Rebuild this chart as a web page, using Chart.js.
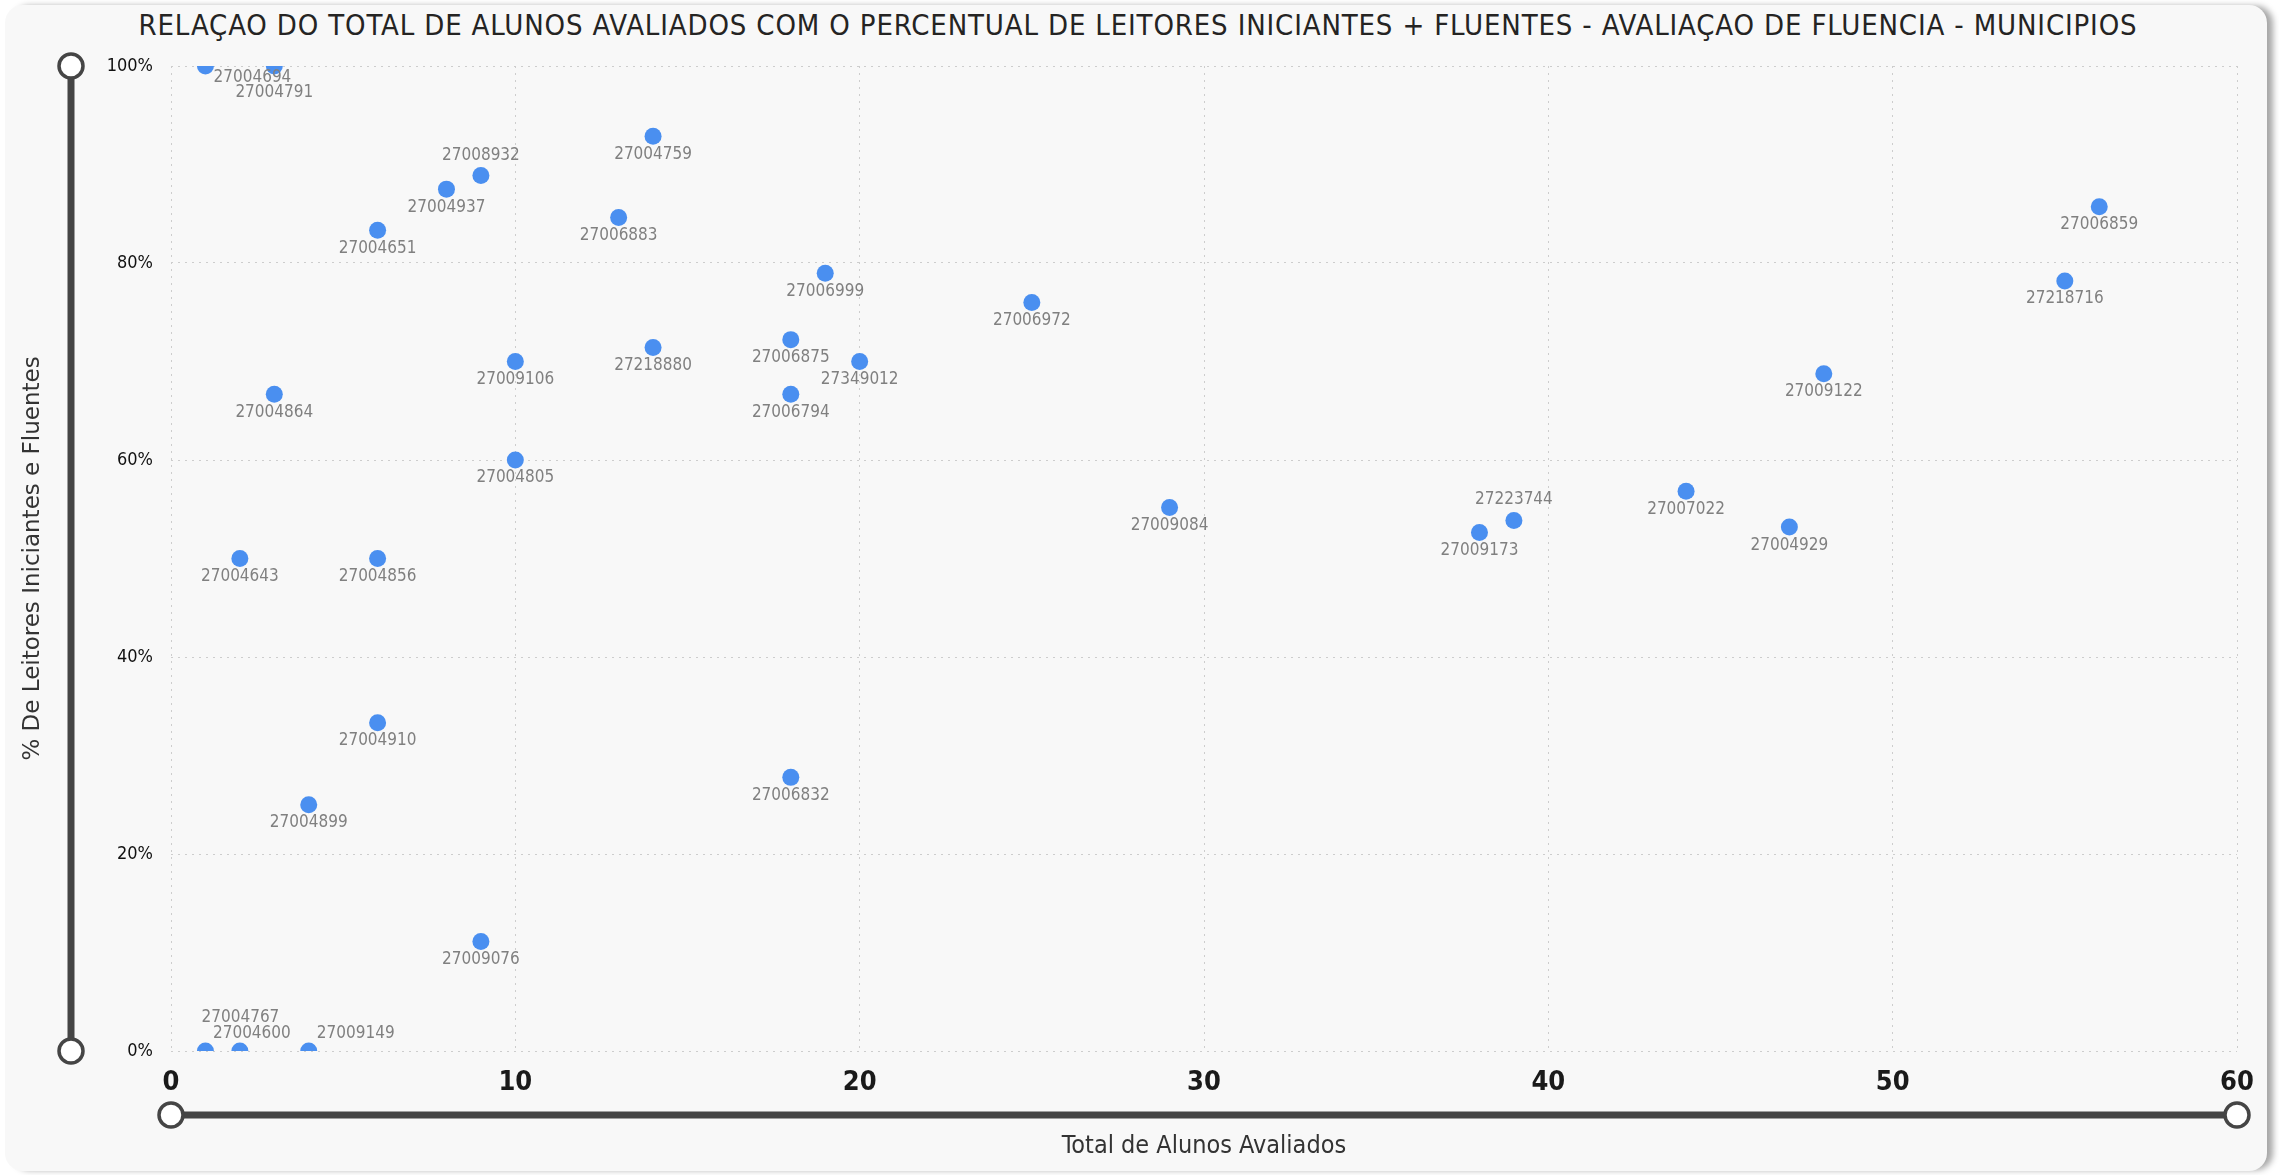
<!DOCTYPE html>
<html lang="pt-BR">
<head>
<meta charset="utf-8">
<title>Relação do total de alunos avaliados</title>
<script src="https://cdn.jsdelivr.net/npm/chart.js@4.4.1/dist/chart.umd.min.js"></script>
<style>
  html, body { margin: 0; padding: 0; background: #ffffff; width: 2279px; height: 1175px; overflow: hidden; }
  #card {
    position: absolute; left: 5px; top: 5px; width: 2262px; height: 1166px;
    background: #f8f8f8; border-radius: 18px;
    box-shadow: 7px 0 6px -1px rgba(0, 0, 0, 0.35);
  }
  #titulo {
    position: absolute; top: 8px; left: 0; width: 2276px; text-align: center;
    font-family: 'DejaVu Sans Condensed', sans-serif; font-size: 29px; letter-spacing: 0.85px;
    color: #252423; white-space: nowrap;
  }
  #grafico { position: absolute; left: 0; top: 0; }
</style>
</head>
<body>
<div id="card"></div>
<div id="titulo">RELAÇAO DO TOTAL DE ALUNOS AVALIADOS COM O PERCENTUAL DE LEITORES INICIANTES + FLUENTES - AVALIAÇAO DE FLUENCIA - MUNICIPIOS</div>
<canvas id="grafico" width="2279" height="1175"></canvas>
<script>
// Código de cada município (rótulo do ponto)
const municipios = [
  '27004694', '27004791', '27004759', '27008932', '27004937', '27006883', '27004651',
  '27006859', '27006999', '27006972', '27218716', '27009106', '27218880', '27006875',
  '27349012', '27004864', '27006794', '27009122', '27004805', '27009084', '27009173',
  '27223744', '27007022', '27004929', '27004643', '27004856', '27004910', '27006832',
  '27004899', '27009076', '27004767', '27004600', '27009149'
];
// Total de alunos avaliados (eixo X)
const totalAlunos = [
  1, 3, 14, 9, 8, 13, 6,
  56, 19, 25, 55, 10, 14, 18,
  20, 3, 18, 48, 10, 29, 38,
  39, 44, 47, 2, 6, 6, 18,
  4, 9, 1, 2, 4
];
// % de leitores iniciantes + fluentes (eixo Y)
const percLeitores = [
  100, 100, 92.86, 88.89, 87.5, 84.62, 83.33,
  85.71, 78.95, 76, 78.18, 70, 71.43, 72.22,
  70, 66.67, 66.67, 68.75, 60, 55.17, 52.63,
  53.85, 56.82, 53.19, 50, 50, 33.33, 27.78,
  25, 11.11, 0, 0, 0
];

// deslocamento dos rótulos que não ficam logo abaixo do ponto
const posRotulo = {
  '27004694': [47, 12],
  '27004791': [0, 27],
  '27008932': [0, -20],
  '27223744': [0, -21],
  '27004767': [35, -33],
  '27004600': [12, -17],
  '27009149': [47, -17]
};

const rotulos = {
  id: 'rotulos',
  afterDatasetsDraw(chart) {
    const ctx = chart.ctx;
    const meta = chart.getDatasetMeta(0);
    ctx.save();
    ctx.font = '17px "DejaVu Sans Condensed", sans-serif';
    ctx.fillStyle = '#808080';
    ctx.textAlign = 'center';
    ctx.textBaseline = 'middle';
    meta.data.forEach((pt, i) => {
      const off = posRotulo[municipios[i]] || [0, 18];
      ctx.fillText(municipios[i], pt.x + off[0], pt.y + off[1]);
    });
    ctx.restore();
  }
};

// trilhos de zoom (estilo Power BI)
const trilhos = {
  id: 'trilhos',
  afterDraw(chart) {
    const ctx = chart.ctx;
    const a = chart.chartArea;
    const xv = a.left - 100;
    const yh = a.bottom + 64;
    ctx.save();
    ctx.strokeStyle = '#454545';
    ctx.lineWidth = 7;
    ctx.beginPath();
    ctx.moveTo(xv, a.top);
    ctx.lineTo(xv, a.bottom);
    ctx.moveTo(a.left, yh);
    ctx.lineTo(a.right, yh);
    ctx.stroke();
    ctx.lineWidth = 3.5;
    ctx.fillStyle = '#ffffff';
    [[xv, a.top], [xv, a.bottom], [a.left, yh], [a.right, yh]].forEach(c => {
      ctx.beginPath();
      ctx.arc(c[0], c[1], 12, 0, Math.PI * 2);
      ctx.fill();
      ctx.stroke();
    });
    ctx.restore();
  }
};

const ctx = document.getElementById('grafico').getContext('2d');
new Chart(ctx, {
  type: 'scatter',
  data: {
    datasets: [{
      label: '% De Leitores Iniciantes e Fluentes',
      data: totalAlunos.map((x, i) => ({ x: x, y: percLeitores[i] })),
      backgroundColor: '#4a8ff0',
      borderWidth: 0,
      pointRadius: 8.5,
      pointHoverRadius: 8.5,
      clip: 0
    }]
  },
  options: {
    responsive: false,
    animation: false,
    layout: { padding: { top: 66, right: 42, bottom: 0, left: 0 } },
    plugins: {
      legend: { display: false },
      tooltip: { enabled: false },
      title: { display: false }
    },
    scales: {
      x: {
        type: 'linear',
        min: 0,
        max: 60,
        ticks: {
          stepSize: 10,
          padding: 16,
          color: '#1a1a1a',
          font: { family: '"DejaVu Sans Condensed", sans-serif', size: 27, weight: 'bold' }
        },
        grid: { color: '#cdcdcd', lineWidth: 1, drawTicks: false },
        border: { display: false, dash: [2, 5] },
        title: {
          display: true,
          text: 'Total de Alunos Avaliados',
          color: '#333333',
          font: { family: '"DejaVu Sans Condensed", sans-serif', size: 25 },
          padding: { top: 0, bottom: 14 }
        },
        afterFit: function(scale) { scale.height = 124; }
      },
      y: {
        min: 0,
        max: 100,
        ticks: {
          stepSize: 20,
          padding: 18,
          color: '#111111',
          font: { family: '"DejaVu Sans Condensed", sans-serif', size: 18 },
          callback: v => v + '%'
        },
        grid: { color: '#cdcdcd', lineWidth: 1, drawTicks: false },
        border: { display: false, dash: [2, 5] },
        title: {
          display: true,
          text: '% De Leitores Iniciantes e Fluentes',
          color: '#333333',
          font: { family: '"DejaVu Sans", sans-serif', size: 23 },
          padding: { top: 19, bottom: 0 }
        },
        afterFit: function(scale) { scale.width = 171; }
      }
    }
  },
  plugins: [rotulos, trilhos]
});
</script>
</body>
</html>
